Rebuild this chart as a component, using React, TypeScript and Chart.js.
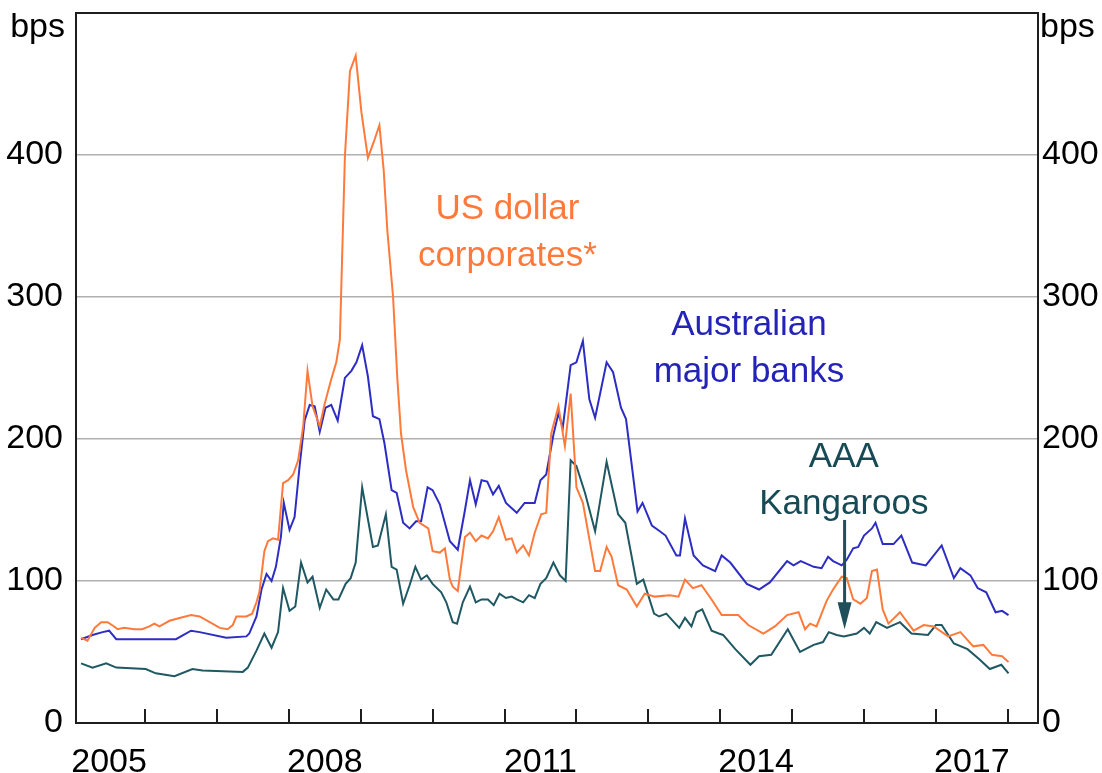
import { useEffect, useRef } from 'react';
import { Chart, registerables } from 'chart.js';

Chart.register(...registerables);

// ---- Data (decimal years, basis points) ----
const usYears = [2005.11, 2005.20, 2005.30, 2005.39, 2005.48, 2005.57, 2005.62, 2005.71, 2005.85, 2005.96,
  2006.06, 2006.13, 2006.20, 2006.27, 2006.34, 2006.48, 2006.64, 2006.76, 2006.90, 2007.04,
  2007.15, 2007.22, 2007.27, 2007.41, 2007.49, 2007.55, 2007.59, 2007.66, 2007.71, 2007.78,
  2007.85, 2007.92, 2007.99, 2008.06, 2008.13, 2008.20, 2008.26, 2008.33, 2008.43, 2008.50,
  2008.59, 2008.66, 2008.71, 2008.78, 2008.85, 2008.93, 2009.01, 2009.10, 2009.18, 2009.26,
  2009.32, 2009.37, 2009.45, 2009.51, 2009.56, 2009.63, 2009.73, 2009.82, 2009.94, 2010.00,
  2010.10, 2010.17, 2010.24, 2010.28, 2010.35, 2010.45, 2010.52, 2010.60, 2010.68, 2010.77,
  2010.84, 2010.92, 2011.02, 2011.10, 2011.17, 2011.26, 2011.34, 2011.42, 2011.51, 2011.58,
  2011.65, 2011.75, 2011.84, 2011.92, 2012.00, 2012.09, 2012.26, 2012.33, 2012.42, 2012.49,
  2012.58, 2012.70, 2012.84, 2012.95, 2013.09, 2013.30, 2013.42, 2013.51, 2013.62, 2013.74,
  2013.88, 2014.02, 2014.25, 2014.39, 2014.60, 2014.76, 2014.93, 2015.09, 2015.18, 2015.25,
  2015.34, 2015.48, 2015.57, 2015.69, 2015.76, 2015.85, 2015.95, 2016.04, 2016.11, 2016.18,
  2016.26, 2016.34, 2016.50, 2016.69, 2016.83, 2016.97, 2017.17, 2017.34, 2017.52, 2017.66,
  2017.78, 2017.92, 2018.01];
const usValues = [60, 58, 67, 71, 71, 68, 66, 67, 66, 66,
  68, 70, 68, 70, 72, 74, 76, 75, 71, 67,
  66, 69, 75, 75, 77, 85, 92, 121, 128, 130,
  129, 169, 171, 175, 185, 209, 248, 223, 209, 225,
  242, 254, 270, 399, 459, 470, 430, 398, 409, 421,
  389, 347, 300, 242, 204, 178, 152, 141, 137, 121,
  120, 123, 101, 96, 93, 131, 134, 128, 132, 130,
  135, 145, 129, 130, 120, 125, 118, 134, 147, 148,
  204, 223, 195, 232, 166, 155, 107, 107, 124, 117,
  97, 94, 82, 91, 89, 90, 89, 101, 95, 97,
  87, 76, 76, 69, 63, 68, 76, 78, 66, 70,
  68, 86, 94, 103, 102, 87, 84, 88, 107, 108,
  80, 70, 78, 65, 69, 68, 61, 64, 54, 55,
  48, 47, 43];

const banksYears = [2005.11, 2005.27, 2005.41, 2005.50, 2005.60, 2005.96, 2006.43, 2006.64, 2006.76, 2007.13,
  2007.41, 2007.45, 2007.55, 2007.62, 2007.69, 2007.76, 2007.82, 2007.89, 2007.93, 2008.01,
  2008.08, 2008.15, 2008.22, 2008.29, 2008.36, 2008.43, 2008.51, 2008.59, 2008.68, 2008.78,
  2008.87, 2008.94, 2009.02, 2009.10, 2009.17, 2009.26, 2009.33, 2009.43, 2009.50, 2009.59,
  2009.68, 2009.77, 2009.84, 2009.93, 2010.00, 2010.10, 2010.24, 2010.35, 2010.45, 2010.52,
  2010.60, 2010.68, 2010.76, 2010.84, 2010.92, 2011.02, 2011.17, 2011.28, 2011.42, 2011.50,
  2011.58, 2011.68, 2011.75, 2011.81, 2011.92, 2012.00, 2012.09, 2012.18, 2012.26, 2012.42,
  2012.51, 2012.62, 2012.69, 2012.85, 2012.92, 2013.05, 2013.16, 2013.24, 2013.39, 2013.44,
  2013.51, 2013.63, 2013.76, 2013.93, 2014.02, 2014.14, 2014.37, 2014.54, 2014.69, 2014.93,
  2015.02, 2015.12, 2015.30, 2015.41, 2015.50, 2015.57, 2015.69, 2015.76, 2015.85, 2015.92,
  2016.00, 2016.11, 2016.16, 2016.26, 2016.41, 2016.52, 2016.67, 2016.86, 2017.08, 2017.25,
  2017.34, 2017.48, 2017.58, 2017.70, 2017.83, 2017.92, 2018.01];
const banksValues = [59, 62, 64, 65, 59, 59, 59, 65, 64, 60,
  61, 63, 75, 94, 105, 100, 110, 131, 155, 136,
  145, 181, 213, 224, 223, 205, 222, 224, 213, 243,
  248, 254, 266, 244, 216, 214, 197, 164, 162, 141,
  137, 142, 142, 166, 164, 154, 128, 122, 150, 171,
  154, 171, 170, 161, 167, 155, 148, 155, 155, 171,
  175, 203, 218, 208, 252, 254, 269, 228, 215, 254,
  247, 222, 214, 149, 155, 139, 135, 132, 118, 118,
  144, 118, 111, 107, 118, 113, 98, 94, 99, 114,
  111, 114, 110, 109, 117, 114, 111, 115, 123, 124,
  132, 137, 141, 126, 126, 132, 113, 111, 125, 102,
  109, 104, 95, 92, 78, 79, 76];

const kangYears = [2005.11, 2005.27, 2005.46, 2005.60, 2006.01, 2006.15, 2006.41, 2006.66, 2006.80, 2007.36,
  2007.43, 2007.55, 2007.66, 2007.76, 2007.85, 2007.92, 2008.01, 2008.09, 2008.17, 2008.26,
  2008.33, 2008.43, 2008.52, 2008.62, 2008.69, 2008.79, 2008.86, 2008.93, 2009.02, 2009.17,
  2009.24, 2009.35, 2009.43, 2009.50, 2009.59, 2009.68, 2009.76, 2009.84, 2009.92, 2010.00,
  2010.12, 2010.19, 2010.28, 2010.34, 2010.42, 2010.52, 2010.60, 2010.68, 2010.77, 2010.85,
  2010.93, 2011.02, 2011.10, 2011.17, 2011.26, 2011.34, 2011.42, 2011.50, 2011.58, 2011.68,
  2011.77, 2011.85, 2011.92, 2012.00, 2012.12, 2012.26, 2012.42, 2012.58, 2012.68, 2012.84,
  2012.93, 2013.08, 2013.15, 2013.25, 2013.43, 2013.51, 2013.60, 2013.67, 2013.75, 2013.88,
  2013.98, 2014.04, 2014.21, 2014.42, 2014.54, 2014.71, 2014.94, 2015.11, 2015.30, 2015.43,
  2015.51, 2015.62, 2015.72, 2015.90, 2016.00, 2016.08, 2016.17, 2016.32, 2016.50, 2016.66,
  2016.89, 2017.00, 2017.08, 2017.25, 2017.44, 2017.60, 2017.75, 2017.91, 2018.01];
const kangValues = [42, 39, 42, 39, 38, 35, 33, 38, 37, 36,
  39, 51, 63, 53, 64, 95, 79, 82, 113, 99,
  103, 81, 94, 87, 87, 98, 102, 113, 166, 124,
  125, 147, 110, 108, 84, 97, 110, 101, 104, 98,
  92, 85, 71, 70, 85, 96, 85, 87, 87, 83,
  91, 88, 89, 87, 85, 90, 88, 98, 102, 113,
  104, 100, 185, 181, 162, 135, 184, 147, 141, 98,
  101, 77, 75, 77, 67, 74, 68, 78, 80, 65,
  63, 62, 52, 41, 47, 48, 66, 50, 55, 57,
  64, 62, 61, 63, 67, 63, 71, 67, 71, 63,
  62, 69, 69, 56, 52, 45, 38, 41, 35];

// ---- Axes ----
const yTickValues = [0, 100, 200, 300, 400, 500];
const xLabelYears = [2005, 2008, 2011, 2014, 2017];
const xTickYears = [2006, 2007, 2008, 2009, 2010, 2011, 2012, 2013, 2014, 2015, 2016, 2017, 2018];
const X_MIN = 2005.04;
const X_MAX = 2018.42;
const Y_MAX = 500;

const ORANGE = '#ff7a3a';
const BLUE = '#2d2dc4';
const TEAL = '#1f5863';
const ORANGE_TEXT = '#ff7a3a';
const BLUE_TEXT = '#2323b8';
const TEAL_TEXT = '#164a55';
const FONT = '"Liberation Sans", Arial, Helvetica, sans-serif';

// Annotation labels (in data coordinates)
const labels = [
  { lines: ['US dollar', 'corporates*'], x: 2011.04, y: [355, 322], color: ORANGE_TEXT },
  { lines: ['Australian', 'major banks'], x: 2014.40, y: [273, 240], color: BLUE_TEXT },
  { lines: ['AAA', 'Kangaroos'], x: 2015.72, y: [180, 147.5], color: TEAL_TEXT },
];
const arrow = { x: 2015.73, from: 143, to: 66, color: '#1f4f59' };

const zip = (xs: number[], ys: number[]) => xs.map((x, i) => ({ x, y: ys[i] }));

const decorPlugin = {
  id: 'decor',
  afterDatasetsDraw(chart: any) {
    const { ctx, chartArea: a, scales } = chart;
    const xs = scales.x;
    const ys = scales.y;
    ctx.save();
    // plot box
    ctx.strokeStyle = '#1e1e1e';
    ctx.lineWidth = 2;
    ctx.strokeRect(a.left, a.top, a.right - a.left, a.bottom - a.top);
    // inward year ticks
    ctx.beginPath();
    for (const yr of xTickYears) {
      const px = Math.round(xs.getPixelForValue(yr));
      ctx.moveTo(px, a.bottom);
      ctx.lineTo(px, a.bottom - 14);
    }
    ctx.stroke();
    // unit labels
    ctx.fillStyle = '#000';
    ctx.font = `34px ${FONT}`;
    ctx.textBaseline = 'alphabetic';
    ctx.textAlign = 'right';
    ctx.fillText('bps', a.left - 11, a.top + 24);
    ctx.textAlign = 'left';
    ctx.fillText('bps', a.right + 2, a.top + 24);
    // series labels
    ctx.font = `35px ${FONT}`;
    ctx.textAlign = 'center';
    for (const l of labels) {
      ctx.fillStyle = l.color;
      l.lines.forEach((t, i) => ctx.fillText(t, xs.getPixelForValue(l.x), ys.getPixelForValue(l.y[i])));
    }
    // arrow
    const ax = xs.getPixelForValue(arrow.x);
    const y0 = ys.getPixelForValue(arrow.from);
    const y1 = ys.getPixelForValue(arrow.to);
    const head = 27;
    ctx.strokeStyle = arrow.color;
    ctx.fillStyle = arrow.color;
    ctx.lineWidth = 3;
    ctx.beginPath();
    ctx.moveTo(ax, y0);
    ctx.lineTo(ax, y1 - head + 2);
    ctx.stroke();
    ctx.beginPath();
    ctx.moveTo(ax - 7, y1 - head);
    ctx.lineTo(ax + 7, y1 - head);
    ctx.lineTo(ax, y1);
    ctx.closePath();
    ctx.fill();
    ctx.restore();
  },
};

export default function App() {
  const ref = useRef<HTMLCanvasElement | null>(null);

  useEffect(() => {
    document.body.style.margin = '0';
    const canvas = ref.current;
    if (!canvas) return;
    Chart.defaults.font.family = FONT;

    const yTicksFn = (s: any) => {
      s.ticks = yTickValues.map((v) => ({ value: v }));
    };

    const chart = new Chart(canvas, {
      type: 'line',
      data: {
        datasets: [
          { label: 'US dollar corporates*', data: zip(usYears, usValues), borderColor: ORANGE },
          { label: 'Australian major banks', data: zip(banksYears, banksValues), borderColor: BLUE },
          { label: 'AAA Kangaroos', data: zip(kangYears, kangValues), borderColor: TEAL },
        ],
      },
      options: {
        responsive: false,
        animation: false,
        devicePixelRatio: 1,
        parsing: true,
        layout: { padding: { top: 13, left: 0, right: 0, bottom: 0 } },
        elements: {
          point: { radius: 0 },
          line: { tension: 0, borderWidth: 2, fill: false },
        },
        plugins: { legend: { display: false }, tooltip: { enabled: false } },
        scales: {
          x: {
            type: 'linear',
            position: 'bottom',
            min: X_MIN,
            max: X_MAX,
            grid: { display: false, drawTicks: false },
            border: { display: false },
            afterBuildTicks: (s: any) => {
              s.ticks = xLabelYears.map((v) => ({ value: v + 0.5 }));
            },
            ticks: {
              autoSkip: false,
              maxRotation: 0,
              padding: 19,
              color: '#000',
              font: { size: 34, family: FONT },
              callback: (v: any) => String(Math.floor(Number(v))),
            },
            afterFit: (s: any) => {
              s.height = 50;
              s.paddingLeft = 0;
              s.paddingRight = 0;
            },
          },
          y: {
            position: 'left',
            min: 0,
            max: Y_MAX,
            afterBuildTicks: yTicksFn,
            grid: {
              drawTicks: false,
              lineWidth: 1.5,
              color: (c: any) =>
                c.tick && c.tick.value > 0 && c.tick.value < Y_MAX ? '#b0b0b0' : 'rgba(0,0,0,0)',
            },
            border: { display: false },
            ticks: {
              padding: 13,
              color: '#000',
              font: { size: 34, family: FONT },
              callback: (v: any) => (Number(v) === Y_MAX ? '' : String(v)),
            },
            afterFit: (s: any) => {
              s.width = 76;
              s.paddingTop = 0;
              s.paddingBottom = 0;
            },
          },
          y2: {
            position: 'right',
            min: 0,
            max: Y_MAX,
            afterBuildTicks: yTicksFn,
            grid: { display: false, drawTicks: false },
            border: { display: false },
            ticks: {
              padding: 4,
              color: '#000',
              font: { size: 34, family: FONT },
              callback: (v: any) => (Number(v) === Y_MAX ? '' : String(v)),
            },
            afterFit: (s: any) => {
              s.width = 64;
              s.paddingTop = 0;
              s.paddingBottom = 0;
            },
          },
        },
      } as any,
      plugins: [decorPlugin],
    });

    return () => chart.destroy();
  }, []);

  return (
    <div style={{ width: 1102, height: 773, background: '#fff' }}>
      <canvas ref={ref} width={1102} height={773} style={{ display: 'block' }} />
    </div>
  );
}
